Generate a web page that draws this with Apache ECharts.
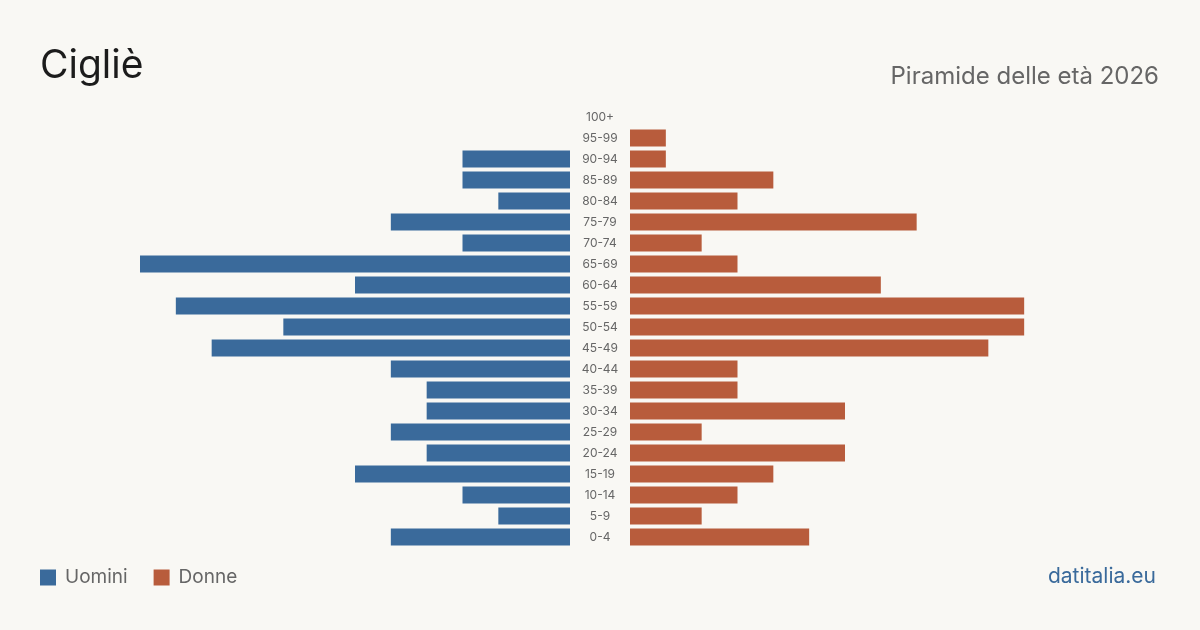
<!DOCTYPE html>
<html>
<head>
<meta charset="utf-8">
<script src="https://cdn.jsdelivr.net/npm/echarts@6/dist/echarts.min.js"></script>
<style>
  html, body { margin: 0; padding: 0; background: #f9f8f4; }
  #chart { width: 1200px; height: 630px; }
</style>
</head>
<body>
<div id="chart"></div>
<script>
// age groups, bottom to top
const ageGroups = ['0-4','5-9','10-14','15-19','20-24','25-29','30-34','35-39','40-44','45-49',
                   '50-54','55-59','60-64','65-69','70-74','75-79','80-84','85-89','90-94','95-99','100+'];
const uomini = [5, 2, 3, 6, 4, 5, 4, 4, 5, 10, 8, 11, 6, 12, 3, 5, 2, 3, 3, 0, 0];
const donne  = [5, 2, 3, 4, 6, 2, 6, 3, 3, 10, 11, 11, 7, 3, 2, 8, 3, 4, 1, 1, 0];

const blue = '#3a6a9b';
const orange = '#b85c3c';
const font = 'Inter, "Noto Sans", sans-serif';

var myChart = echarts.init(document.getElementById('chart'));

var option = {
    backgroundColor: '#f9f8f4',
    animation: false,
    textStyle: { fontFamily: font },
    grid: [
        { left: 140, width: 430, top: 106.5, height: 441 },
        { left: 630, width: 430, top: 106.5, height: 441 }
    ],
    xAxis: [
        { gridIndex: 0, type: 'value', min: 0, max: 12, inverse: true, show: false },
        { gridIndex: 1, type: 'value', min: 0, max: 12, show: false }
    ],
    yAxis: [
        { gridIndex: 0, type: 'category', data: ageGroups, show: false },
        {
            gridIndex: 1, type: 'category', data: ageGroups,
            axisLine: { show: false }, axisTick: { show: false },
            axisLabel: { align: 'center', margin: 30, color: '#666', fontSize: 12, fontFamily: font }
        }
    ],
    legend: {
        left: 35, top: 563,
        itemWidth: 16, itemHeight: 16, itemGap: 26,
        icon: 'rect',
        textStyle: { color: '#666', fontSize: 19, fontFamily: font, padding: [0, 0, 0, 4] },
        data: ['Uomini', 'Donne']
    },
    graphic: [
        { type: 'text', left: 40, top: 47, style: { text: 'Cigliè', fill: '#1c1c1c', font: '39px ' + font } },
        { type: 'text', right: 41, top: 65, style: { text: 'Piramide delle età 2026', fill: '#666', font: '24px ' + font } },
        { type: 'text', right: 44, top: 566, style: { text: 'datitalia.eu', fill: blue, font: '21px ' + font } }
    ],
    series: [
        {
            name: 'Uomini', type: 'bar', xAxisIndex: 0, yAxisIndex: 0,
            data: uomini, barWidth: 17, itemStyle: { color: blue }
        },
        {
            name: 'Donne', type: 'bar', xAxisIndex: 1, yAxisIndex: 1,
            data: donne, barWidth: 17, itemStyle: { color: orange }
        }
    ]
};
myChart.setOption(option);
</script>
</body>
</html>
